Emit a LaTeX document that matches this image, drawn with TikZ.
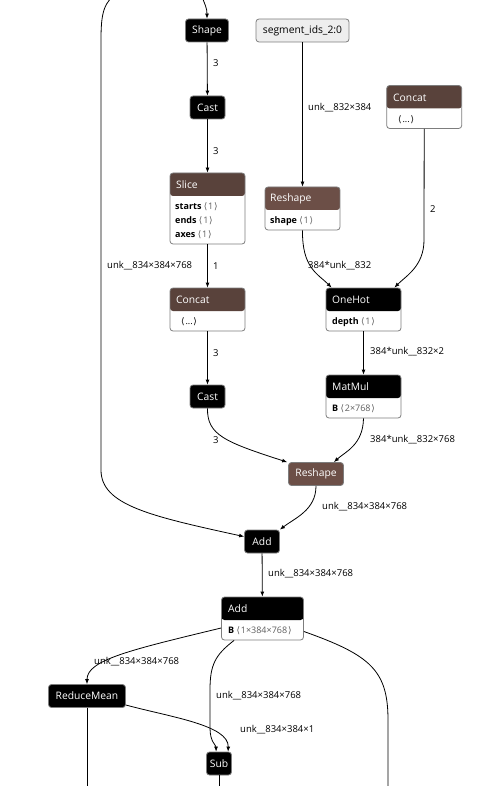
\documentclass[tikz,border=0pt]{standalone}
\usepackage{fontspec}
\setmainfont{Open Sans}
\newfontfamily\symf{DejaVu Sans}
\usetikzlibrary{arrows.meta}
\definecolor{tensorc}{RGB}{89,66,59}
\definecolor{shapec}{RGB}{108,79,71}
\definecolor{bordc}{RGB}{125,125,125}
\definecolor{valc}{RGB}{95,95,95}
\definecolor{inpc}{RGB}{238,238,238}
\newcommand\myL{{\symf ⟨}\kern0.8pt}
\newcommand\myR{\kern0.8pt{\symf ⟩}}
\newcommand\myval[1]{\textcolor{valc}{\myL#1\myR}}
\begin{document}
\begin{tikzpicture}[x=1pt,y=-1pt,
  op/.style={draw=bordc, line width=0.8pt, fill=black, rounded corners=3pt, text=white,
    font=\fontsize{10.3}{12}\selectfont, inner sep=0pt, minimum height=23pt},
  box/.style={draw=bordc, line width=0.8pt, fill=white, rounded corners=3pt, inner sep=0pt},
  hbox/.style={box, path picture={\fill[#1] (path picture bounding box.north west) rectangle ([yshift=-23pt]path picture bounding box.north east);}},
  ttl/.style={anchor=west, inner sep=0pt, text=white, font=\fontsize{10.3}{12}\selectfont},
  attr/.style={anchor=west, inner sep=0pt, text=black, font=\fontsize{9}{10}\selectfont},
  lbl/.style={anchor=west, inner sep=0pt, text=black, font=\fontsize{9.5}{11}\selectfont},
  arr/.style={line width=0.8pt, -{Latex[length=5pt,width=4pt]}},
  ln/.style={line width=0.8pt}
]
\useasboundingbox (0,0) rectangle (490,786);
\clip (0,0) rectangle (490,786);

% simple nodes
\node[op, minimum width=43pt] (shape) at (207,30.5) {Shape};
\node[box, fill=inpc, minimum width=93pt, minimum height=23pt, font=\fontsize{10.3}{12}\selectfont] (seg) at (302.5,30.5) {segment\_ids\_2:0};
\node[op, minimum width=35pt] (cast1) at (207.5,107.5) {Cast};
\node[op, minimum width=35pt] (cast2) at (207.5,396.5) {Cast};
\node[op, fill=shapec, minimum width=55pt] (reshape2) at (316,474) {Reshape};
\node[op, minimum width=35pt] (add1) at (262,541.5) {Add};
\node[op, minimum width=77pt] (rmean) at (87,696) {ReduceMean};
\node[op, minimum width=25pt] (sub) at (219,763.5) {Sub};

% headered nodes
\node[hbox=tensorc, minimum width=75pt, minimum height=43pt] (concat1) at (424.2,107) {};
\node[ttl] (concat1t) at (393,97.5) {Concat};
\node[attr] (concat1a) at (398,120) {\myL...\myR};

\node[hbox=tensorc, minimum width=75pt, minimum height=71pt] (slice) at (207.5,208.5) {};
\node[ttl] (slicet) at (176,184.5) {Slice};
\node[attr] (slicea) at (175,207) {\textbf{starts} \myval{1}};
\node[attr] (sliceb) at (175,221) {\textbf{ends} \myval{1}};
\node[attr] (slicec) at (175,235) {\textbf{axes} \myval{1}};

\node[hbox=shapec, minimum width=75pt, minimum height=43pt] (reshape1) at (302.5,208.5) {};
\node[ttl] (reshape1t) at (270,198.5) {Reshape};
\node[attr] (reshape1a) at (270,221) {\textbf{shape} \myval{1}};

\node[hbox=tensorc, minimum width=75pt, minimum height=43pt] (concat2) at (207.5,309.5) {};
\node[ttl] (concat2t) at (176,299.5) {Concat};
\node[attr] (concat2a) at (181,322) {\myL...\myR};

\node[hbox=black, minimum width=75pt, minimum height=43pt] (onehot) at (363.5,309.5) {};
\node[ttl] (onehott) at (332,299.5) {OneHot};
\node[attr] (onehota) at (332,322) {\textbf{depth} \myval{1}};

\node[hbox=black, minimum width=75pt, minimum height=43pt] (matmul) at (363.5,396.5) {};
\node[ttl] (matmult) at (332,386.5) {MatMul};
\node[attr] (matmula) at (332,409) {\textbf{B} \myval{2×768}};

\node[hbox=black, minimum width=82pt, minimum height=43pt] (add2) at (262.5,618.5) {};
\node[ttl] (add2t) at (228,608.5) {Add};
\node[attr] (add2a) at (228,631) {\textbf{B} \myval{1×384×768}};

% free ends
\coordinate (topin) at (201,-6);
\coordinate (leftin) at (120,-8);
\coordinate (rout) at (388,795);
\coordinate (mout) at (87,795);
\coordinate (sout) at (219,795);

% edges
\draw[arr] (topin) .. controls (205,5) and (207,8) .. (shape.north);
\draw[arr] (leftin) .. controls (103,0) and (101,15) .. (101,40) -- (101,470)
   .. controls (101,505) and (150,516) .. ([yshift=-7pt]add1.north west);
\draw[arr] (shape) -- (cast1);
\draw[arr] (cast1) -- (slice);
\draw[arr] (slice) -- (concat2);
\draw[arr] (concat2) -- (cast2);
\draw[arr] (cast2.south) .. controls (207,435) and (225,442) .. ([xshift=-1pt]reshape2.north west);
\draw[arr] (seg) -- (reshape1);
\draw[arr] (reshape1.south) .. controls (302,268) and (318,274) .. ([xshift=6pt]onehot.north west);
\draw[arr] (concat1.south) -- (424,240) .. controls (424,266) and (406,276) .. ([xshift=-7pt]onehot.north east);
\draw[arr] (onehot) -- (matmul);
\draw[arr] (matmul.south) .. controls (363,445) and (345,452) .. ([xshift=-10pt]reshape2.north east);
\draw[arr] (reshape2.south) .. controls (316,510) and (295,518) .. (add1.north east);
\draw[arr] (add1) -- (add2);
\draw[arr] ([yshift=-9.5pt]add2.west) .. controls (130,650) and (87,660) .. (rmean.north);
\draw[arr] ([xshift=13pt]add2.south west) .. controls (215,655) and (210,665) .. (210,690) -- (210,728)
   .. controls (210,742) and (216,745) .. ([xshift=10pt]sub.north west);
\draw[arr] ([yshift=-9pt]rmean.east) .. controls (170,717) and (229,725) .. ([xshift=22pt]sub.north west);
\draw[ln] ([yshift=-13pt]add2.east) .. controls (370,655) and (388,670) .. (388,720) -- (rout);
\draw[ln] (rmean.south) -- (mout);
\draw[ln] (sub.south) -- (sout);

% labels
\node[lbl] (l1) at (213,63) {3};
\node[lbl] (l2) at (308,108) {unk\_\_832×384};
\node[lbl] (l3) at (213,151) {3};
\node[lbl] (l4) at (430,209) {2};
\node[lbl] (l5) at (107,266) {unk\_\_834×384×768};
\node[lbl] (l6) at (213,266) {1};
\node[lbl] (l7) at (308,266) {384*unk\_\_832};
\node[lbl] (l8) at (213,353) {3};
\node[lbl] (l9) at (370,352) {384*unk\_\_832×2};
\node[lbl] (l10) at (213,440) {3};
\node[lbl] (l11) at (370,440) {384*unk\_\_832×768};
\node[lbl] (l12) at (322,507) {unk\_\_834×384×768};
\node[lbl] (l13) at (268,574) {unk\_\_834×384×768};
\node[lbl] (l14) at (94,662) {unk\_\_834×384×768};
\node[lbl] (l15) at (216,696) {unk\_\_834×384×768};
\node[lbl] (l16) at (240,730) {unk\_\_834×384×1};
\end{tikzpicture}
\end{document}
